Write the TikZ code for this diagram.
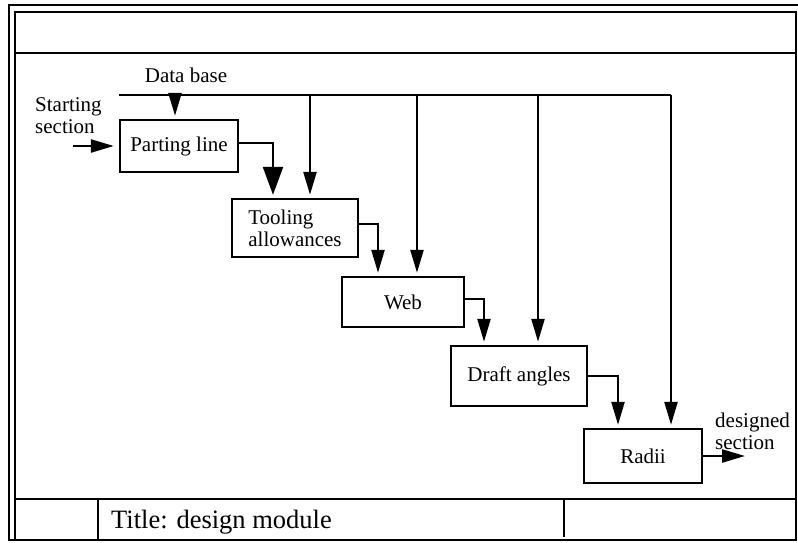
\documentclass[tikz,border=0pt]{standalone}
\usepackage{fontspec}
\setmainfont{Liberation Serif}
\usetikzlibrary{arrows.meta}

\begin{document}
\begin{tikzpicture}[x=1pt, y=-1pt, line width=2.4pt, font=\fontsize{21}{22}\selectfont]
	\tikzstyle{boxStyle}=[draw, rectangle, inner sep=0pt, align=left]
	\tikzstyle{labelStyle}=[inner sep=0pt, align=left]
	\tikzstyle{flowStyle}=[-{Triangle[length=23pt, width=13pt]}, shorten >=3pt]
	\tikzstyle{bigFlowStyle}=[-{Triangle[length=28pt, width=20pt]}, shorten >=3pt]
	\useasboundingbox (0,0) rectangle (798,542);
	% frame
	\draw (9,541) -- (9,5) -- (798,5);
	\draw (15,540) -- (15,12) -- (796,12) -- (796,541);
	\draw (9,540) -- (796,540);
	\draw (15,53) -- (796,53);
	\draw (15,499) -- (796,499);
	\draw (98,499) -- (98,540);
	\draw (564,499) -- (564,537);
	\node[labelStyle, anchor=base west, font=\fontsize{26.5}{28}\selectfont] (title) at (110,528) {Title: design module};
	% boxes
	\node[boxStyle, minimum width=118pt, minimum height=52pt] (parting) at (179,146) {Parting line};
	\node[boxStyle, minimum width=126pt, minimum height=58pt] (tooling) at (295,228) {Tooling\\allowances};
	\node[boxStyle, minimum width=122pt, minimum height=50pt] (web) at (403,302) {Web};
	\node[boxStyle, minimum width=136pt, minimum height=60pt] (draft) at (519,376) {Draft angles};
	\node[boxStyle, minimum width=118pt, minimum height=54pt] (radii) at (643,456) {Radii};
	% labels
	\node[labelStyle] (dataBase) at (186,75) {Data base};
	\node[labelStyle, anchor=west] (startLabel) at (34,116) {Starting\\section};
	\node[labelStyle, anchor=west] (endLabel) at (714,431) {designed\\section};
	% data base bus
	\coordinate (busStart) at (119,95);
	\coordinate (tapA) at (175,95);
	\coordinate (tapB) at (310,95);
	\coordinate (tapC) at (417,95);
	\coordinate (tapD) at (538,95);
	\coordinate (busEnd) at (671,95);
	\draw (busStart) -- (busEnd);
	\draw[flowStyle] (tapA) -- (tapA |- parting.north);
	\draw[flowStyle] (tapB) -- (tapB |- tooling.north);
	\draw[flowStyle] (tapC) -- (tapC |- web.north);
	\draw[flowStyle] (tapD) -- (tapD |- draft.north);
	\draw[flowStyle] (busEnd) -- (busEnd |- radii.north);
	% flow between steps
	\coordinate (inStart) at (73,146);
	\coordinate (outEnd) at (745,456);
	\draw[flowStyle, shorten >=5pt] (inStart) -- (parting.west);
	\draw[bigFlowStyle] ([yshift=3pt]parting.east) -| ([xshift=-22pt]tooling.north);
	\draw[flowStyle] ([yshift=4pt]tooling.east) -| ([xshift=-25pt]web.north);
	\draw[flowStyle] ([yshift=3pt]web.east) -| ([xshift=-35pt]draft.north);
	\draw[flowStyle] (draft.east) -| ([xshift=-25pt]radii.north);
	\draw[flowStyle, shorten >=0pt] (radii.east) -- (outEnd);
\end{tikzpicture}
\end{document}
